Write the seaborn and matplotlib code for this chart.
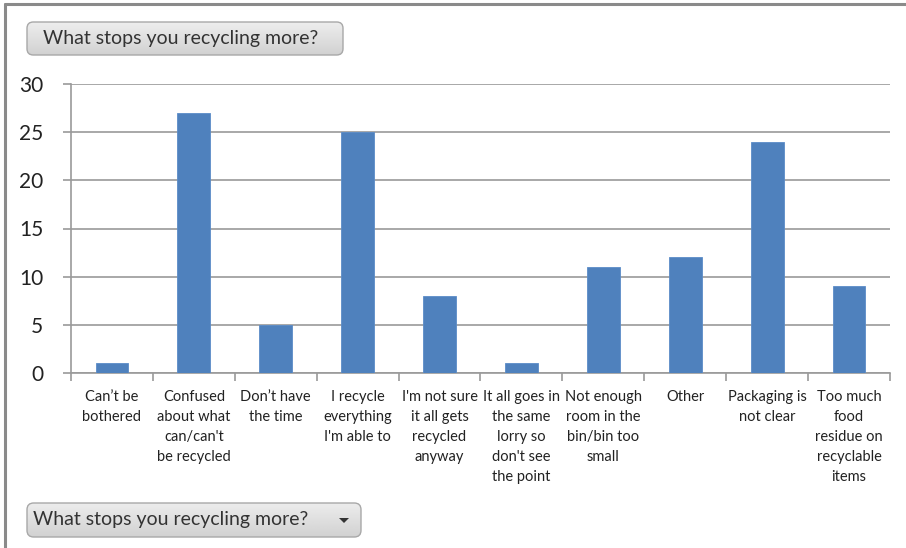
import matplotlib
matplotlib.use("Agg")
import matplotlib.pyplot as plt
import seaborn as sns
import pandas as pd
import numpy as np
from matplotlib.patches import FancyBboxPatch, Polygon
from matplotlib.lines import Line2D

categories = [
    "Can\u2019t be\nbothered",
    "Confused\nabout what\ncan/can't\nbe recycled",
    "Don\u2019t have\nthe time",
    "I recycle\neverything\nI'm able to",
    "I'm not sure\nit all gets\nrecycled\nanyway",
    "It all goes in\nthe same\nlorry so\ndon't see\nthe point",
    "Not enough\nroom in the\nbin/bin too\nsmall",
    "Other",
    "Packaging is\nnot clear",
    "Too much\nfood\nresidue on\nrecyclable\nitems",
]
counts = [1, 27, 5, 25, 8, 1, 11, 12, 24, 9]
y_ticks = [0, 5, 10, 15, 20, 25, 30]
title_button = "What stops you recycling more?"

sns.set_theme(style="white")
plt.rcParams["font.family"] = ["Lato", "DejaVu Sans"]

W, H = 906, 548
fig = plt.figure(figsize=(W / 100, H / 100), dpi=100)
ax = fig.add_axes([71 / W, 1 - 373 / H, (890 - 71) / W, (373 - 84) / H])

df = pd.DataFrame({"cat": categories, "n": counts})
sns.barplot(data=df, x="cat", y="n", color="#4F81BD", saturation=1,
            width=0.4, ax=ax, edgecolor="#5B8CC8", linewidth=0.6, zorder=3)

ax.set_xlim(-0.5, len(categories) - 0.5)
ax.set_ylim(0, 30)
ax.set_yticks(y_ticks)
ax.set_yticklabels([str(v) for v in y_ticks], fontsize=15, color="#222222")
ax.yaxis.grid(True, color="#9a9a9a", linewidth=1.2, zorder=0)
ax.set_axisbelow(True)
ax.set_xlabel("")
ax.set_ylabel("")

ax.set_xticks(range(len(categories)))
ax.set_xticklabels(categories, fontsize=10.5, color="#222222", linespacing=1.55,
                   va="top", ha="center")
ax.tick_params(axis="x", which="major", length=0, pad=12)
ax.set_xticks(np.arange(-0.5, len(categories), 1.0), minor=True)
ax.tick_params(axis="x", which="minor", length=6, width=1.2, color="#9a9a9a",
               direction="out", bottom=True)
ax.tick_params(axis="y", which="major", length=6, width=1.2, color="#9a9a9a",
               direction="out", left=True, pad=14)

for s in ["top", "right"]:
    ax.spines[s].set_visible(False)
for s in ["left", "bottom"]:
    ax.spines[s].set_color("#9a9a9a")
    ax.spines[s].set_linewidth(1.2)

# outer frame (left and top edges)
fig.add_artist(Line2D([5 / W, 5 / W], [0, 1 - 4 / H], transform=fig.transFigure,
                      color="#8a8a8a", linewidth=2.2))
fig.add_artist(Line2D([5 / W, 1], [1 - 4 / H, 1 - 4 / H], transform=fig.transFigure,
                      color="#8a8a8a", linewidth=2.2))

def button(x0, y0, x1, y1, text, tx, arrow=False):
    w, h = (x1 - x0) / W, (y1 - y0) / H
    bax = fig.add_axes([x0 / W, 1 - y1 / H, w, h])
    bax.set_xlim(0, 1)
    bax.set_ylim(0, 1)
    bax.axis("off")
    grad = np.linspace(0.93, 0.82, 64).reshape(-1, 1)
    im = bax.imshow(grad, cmap="gray", vmin=0, vmax=1, aspect="auto",
                    extent=[0, 1, 0, 1], interpolation="bilinear")
    p = FancyBboxPatch((0, 0), 1, 1,
                       boxstyle="round,pad=0,rounding_size=0.02",
                       mutation_aspect=(x1 - x0) / (y1 - y0),
                       transform=bax.transAxes, facecolor="none",
                       edgecolor="#a8a8a8", linewidth=1.0, clip_on=False)
    bax.add_patch(p)
    im.set_clip_path(p)
    fig.text(tx / W, 1 - (y0 + y1) / 2 / H, text, fontsize=14,
             color="#333333", va="center", ha="left")
    if arrow:
        cx, cy = (x1 - 17), (y0 + y1) / 2
        tri = Polygon([[(cx - 5) / W, 1 - (cy - 2) / H],
                       [(cx + 5) / W, 1 - (cy - 2) / H],
                       [cx / W, 1 - (cy + 3) / H]],
                      closed=True, transform=fig.transFigure,
                      facecolor="#333333", edgecolor="none")
        fig.add_artist(tri)

button(27, 22, 343, 55, title_button, 43)
button(27, 503, 361, 537, title_button, 33, arrow=True)

fig.savefig("out.png", dpi=100, facecolor="white")
